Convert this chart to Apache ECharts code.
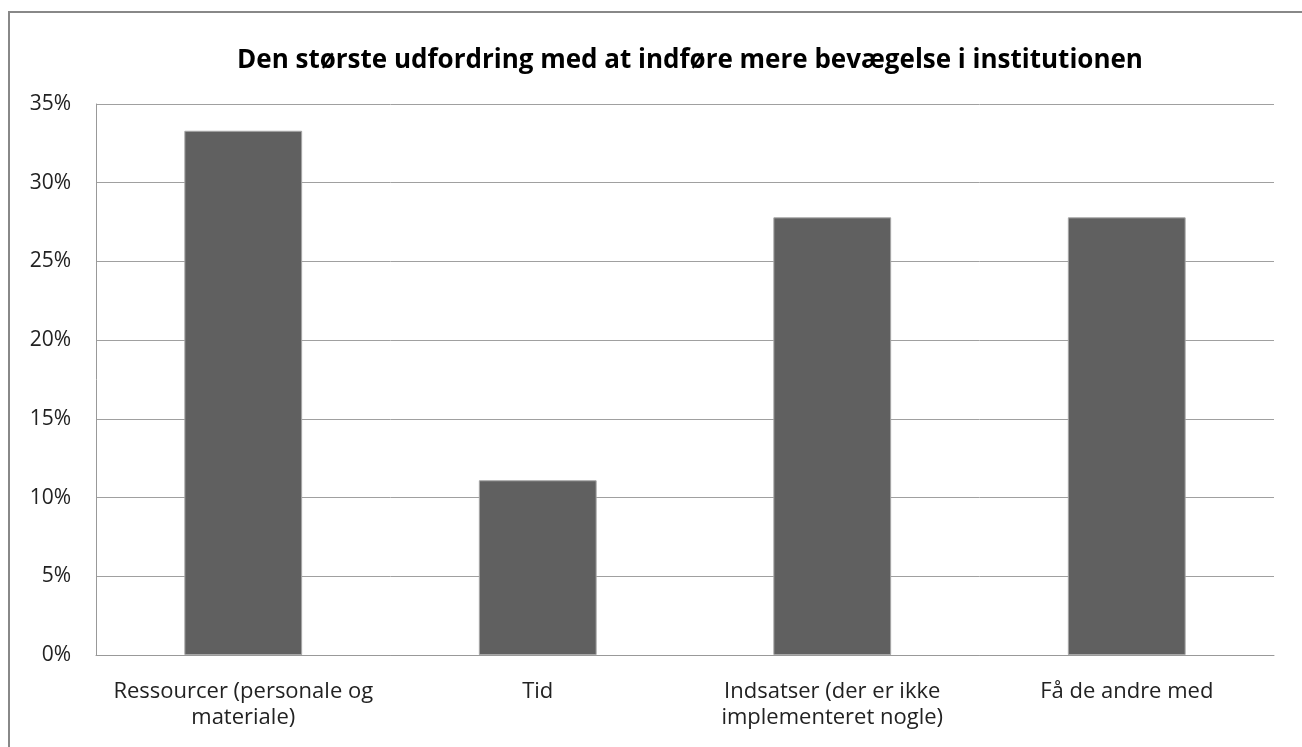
<!DOCTYPE html>
<html>
<head>
<meta charset="utf-8">
<script src="https://cdn.jsdelivr.net/npm/echarts@6/dist/echarts.min.js"></script>
<style>
  html, body { margin: 0; padding: 0; background: #fff; }
  #chart { width: 1302px; height: 747px; }
</style>
</head>
<body>
<div id="chart"></div>
<script>
// chart data
const categories = [
  'Ressourcer (personale og\nmateriale)',
  'Tid',
  'Indsatser (der er ikke\nimplementeret nogle)',
  'Få de andre med'
];
const shares = [33.3, 11.1, 27.8, 27.8];
const titleText = 'Den største udfordring med at indføre mere bevægelse i institutionen';

const font = '"Open Sans", "Noto Sans", sans-serif';
const chart = echarts.init(document.getElementById('chart'), null, { renderer: 'canvas' });

chart.setOption({
  animation: false,
  backgroundColor: '#fff',
  title: {
    text: titleText,
    left: 685,
    top: 42,
    textAlign: 'center',
    textStyle: { fontFamily: font, fontSize: 26, fontWeight: 'bold', color: '#000', lineHeight: 28 }
  },
  // outer frame, runs off the right and bottom edges like the source
  graphic: [{
    type: 'rect',
    shape: { x: 9, y: 12, width: 1320, height: 760 },
    style: { fill: 'none', stroke: '#888', lineWidth: 2 },
    silent: true
  }],
  grid: { left: 96, right: 28, top: 104, bottom: 92, containLabel: false },
  xAxis: {
    type: 'category',
    data: categories,
    axisLine: { show: true, lineStyle: { color: '#999', width: 1 } },
    axisTick: { show: false },
    axisLabel: {
      fontFamily: font, fontSize: 22, color: '#222',
      lineHeight: 26, margin: 24, interval: 0
    }
  },
  yAxis: {
    type: 'value',
    min: 0, max: 35, interval: 5,
    axisLine: { show: true, lineStyle: { color: '#999', width: 1 } },
    axisTick: { show: false },
    splitLine: { lineStyle: { color: '#a0a0a0', width: 1 } },
    axisLabel: {
      fontFamily: font, fontSize: 21, color: '#222', margin: 25,
      formatter: v => v + '%'
    }
  },
  series: [{
    type: 'bar',
    data: shares,
    barWidth: '40%',
    itemStyle: { color: '#606060', borderColor: '#a6a6a6', borderWidth: 1 }
  }]
});
</script>
</body>
</html>
